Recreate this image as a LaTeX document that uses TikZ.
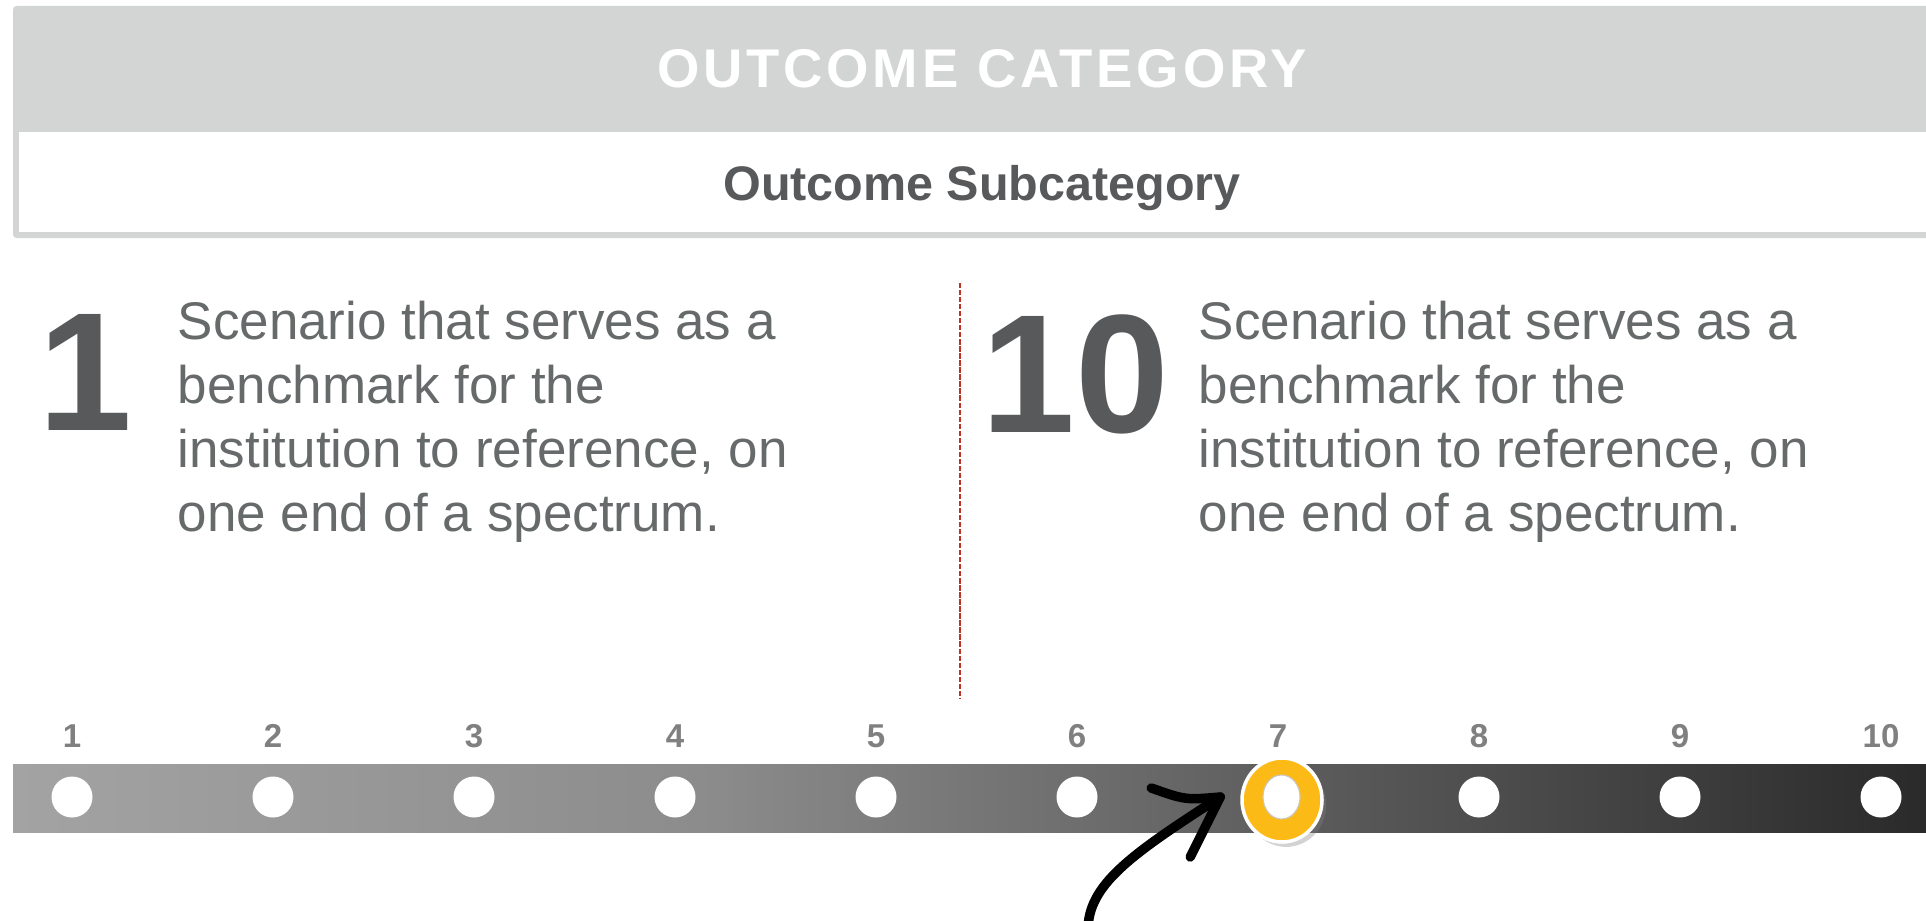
\documentclass[tikz,border=0pt]{standalone}
\usepackage{fontspec}
\setmainfont{Liberation Sans}
\usetikzlibrary{
  backgrounds,
  calc,
  shadows,
  shapes.geometric
}
\definecolor{bandgray}{RGB}{211,213,212}
\definecolor{inkgray}{RGB}{88,89,91}
\definecolor{textgray}{RGB}{103,106,107}
\definecolor{tickgray}{RGB}{128,128,128}
\definecolor{divider}{RGB}{190,52,36}
\definecolor{pickgold}{RGB}{252,186,22}
\definecolor{barlight}{RGB}{163,163,163}
\definecolor{barmid}{RGB}{140,140,140}
\definecolor{bardark}{RGB}{42,42,42}
% path is mapped onto 25bp..75bp of the shading
\pgfdeclarehorizontalshading{scalebar}{100bp}{%
  color(0bp)=(barlight); color(25bp)=(barlight); color(43bp)=(barmid);
  color(75bp)=(bardark); color(100bp)=(bardark)}
\tikzset{
  headline/.style={
    font=\bfseries\fontsize{15.5}{18}\selectfont\addfontfeature{LetterSpace=7},
    text=white,
    anchor=base,
    inner sep=0pt
  },
  subheadline/.style={
    font=\bfseries\fontsize{13.8}{16}\selectfont,
    text=inkgray,
    anchor=base,
    inner sep=0pt
  },
  bignum/.style={
    font=\bfseries\fontsize{48}{54}\selectfont,
    text=inkgray,
    anchor=north west,
    inner sep=0pt
  },
  scenario/.style={
    font=\fontsize{15.08}{18.2}\selectfont,
    text=textgray,
    align=left,
    anchor=north west,
    inner sep=0pt
  },
  ticknum/.style={
    font=\bfseries\fontsize{9.4}{11}\selectfont,
    text=tickgray,
    anchor=base,
    inner sep=0pt
  },
  slot/.style={circle,fill=white,minimum size=.41cm,inner sep=0pt},
  pick/.style={
    ellipse,
    fill=pickgold,
    draw=white,
    line width=1pt,
    minimum width=.80cm,
    minimum height=.84cm,
    inner sep=0pt,
    drop shadow={shadow xshift=1.2pt,shadow yshift=-1.4pt,opacity=.35}
  },
  pick hole/.style={
    ellipse,
    fill=white,
    draw=black!22,
    line width=.3pt,
    minimum width=.37cm,
    minimum height=.44cm,
    inner sep=0pt
  },
  divider line/.style={divider,line width=.6pt,dash pattern=on 1.5pt off .5pt},
  sketch/.style={black,line width=2.7pt,line cap=round,line join=round}
}

\begin{document}
\begin{tikzpicture}[x=1cm,y=1cm]
  \clip (0,0) rectangle (19.26,9.20);

  % heading band
  \begin{scope}[on background layer]
    \fill[bandgray,rounded corners=1pt] (.13,9.14) rectangle (19.40,6.82);
    \fill[white] (.19,7.88) rectangle (19.40,6.88);
  \end{scope}
  \node[headline] (category) at (9.82,8.32) {OUTCOME CATEGORY};
  \node[subheadline] (subcategory) at (9.82,7.20) {Outcome Subcategory};

  % the two ends of the spectrum
  \node[bignum] (lowmark) at (.38,6.06) {1};
  \node[scenario] (lowtext) at (1.77,6.20)
    {Scenario that serves as a\\benchmark for the\\institution to reference, on\\one end of a spectrum.};
  \draw[divider line] (9.60,6.37) -- (9.60,2.21);
  \node[bignum] (highmark) at (9.81,6.06) {10};
  \node[scenario] (hightext) at (11.98,6.20)
    {Scenario that serves as a\\benchmark for the\\institution to reference, on\\one end of a spectrum.};

  % rating bar
  \shade[shading=scalebar] (.13,1.56) rectangle (19.26,.88);
  \foreach \i in {1,...,10} {
    \pgfmathsetmacro\xpos{.72+2.01*(\i-1)}
    \node[ticknum] (num\i) at (\xpos,1.73) {\i};
    \ifnum\i=7
    \else
      \node[slot] (dot\i) at (\xpos,1.23) {};
    \fi
  }
  \node[pick] (pick) at (12.82,1.20) {};
  \node[pick hole] (hole) at (12.815,1.23) {};

  % hand drawn pointer
  \coordinate (tail) at (10.88,-.10);
  \coordinate (tip) at ($(pick.west)+(-.20,.03)$);
  \draw[sketch] (tail) .. controls (10.88,.35) and (11.30,.65) .. (tip);
  \draw[sketch] ($(tip)+(-.69,.09)$) .. controls ($(tip)+(-.35,-.03)$) .. (tip)
    -- ($(tip)+(-.30,-.60)$);
\end{tikzpicture}
\end{document}
